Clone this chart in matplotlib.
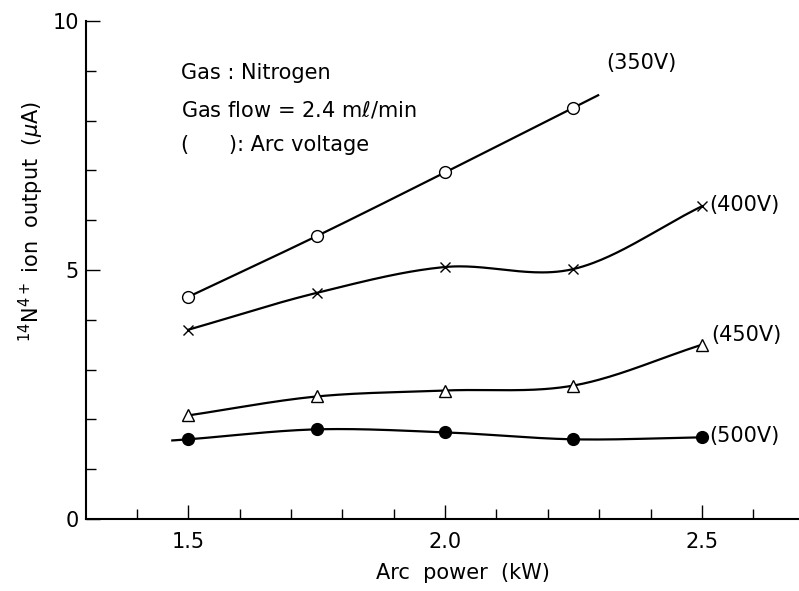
import numpy as np
import matplotlib.pyplot as plt

# arc power (kW)
power = [1.5, 1.75, 2.0, 2.25, 2.5]

# 14N4+ ion output (uA) per arc voltage
out_350 = [4.46, 5.68, 6.96, 8.26]
out_400 = [3.8, 4.54, 5.06, 5.02, 6.28]
out_450 = [2.08, 2.46, 2.58, 2.68, 3.5]
out_500 = [1.6, 1.8, 1.74, 1.6, 1.64]

labels = ['(350V)', '(400V)', '(450V)', '(500V)']


def smooth(x, y, x0=None, x1=None, n=200):
    # cubic hermite through the points, finite-difference slopes
    x = np.asarray(x, float)
    y = np.asarray(y, float)
    m = np.gradient(y, x)
    lo = x[0] if x0 is None else x0
    hi = x[-1] if x1 is None else x1
    xs = np.linspace(lo, hi, n)
    ys = np.empty_like(xs)
    for i, xv in enumerate(xs):
        k = np.clip(np.searchsorted(x, xv) - 1, 0, len(x) - 2)
        h = x[k + 1] - x[k]
        t = (xv - x[k]) / h
        h00 = 2 * t**3 - 3 * t**2 + 1
        h10 = t**3 - 2 * t**2 + t
        h01 = -2 * t**3 + 3 * t**2
        h11 = t**3 - t**2
        ys[i] = h00 * y[k] + h10 * h * m[k] + h01 * y[k + 1] + h11 * h * m[k + 1]
    return xs, ys


plt.rcParams['font.family'] = ['DejaVu Sans']
fig = plt.figure(figsize=(7.99, 5.91), dpi=100)
ax = fig.add_axes([86 / 799, 72 / 591, 713 / 799, 498 / 591])

series = [(power[:4], out_350, 'o', 'white', None, 2.298),
          (power, out_400, 'x', 'black', None, None),
          (power, out_450, '^', 'white', None, None),
          (power, out_500, 'o', 'black', 1.469, None)]

for x, y, mk, fc, x0, x1 in series:
    xs, ys = smooth(x, y, x0, x1)
    ax.plot(xs, ys, color='black', lw=1.6, zorder=2)
    ax.plot(x, y, ls='none', marker=mk, ms=8.5 if mk != 'x' else 7,
            mfc=fc, mec='black', mew=1.0, zorder=3)

lab_kw = dict(fontsize=15, va='center')
ax.text(2.314, 9.15, labels[0], **lab_kw)
ax.text(2.514, 6.3, labels[1], **lab_kw)
ax.text(2.518, 3.7, labels[2], **lab_kw)
ax.text(2.514, 1.66, labels[3], **lab_kw)

ax.text(1.485, 8.96, 'Gas : Nitrogen', **lab_kw)
ax.text(1.485, 8.22, r'Gas flow = 2.4 m$\ell$/min', **lab_kw)
ax.text(1.485, 7.52, '(      ): Arc voltage', **lab_kw)

ax.set_xlim(1.301, 2.689)
ax.set_ylim(0, 10)
ax.set_xticks([1.5, 2.0, 2.5])
ax.set_xticklabels(['1.5', '2.0', '2.5'])
ax.set_xticks(np.arange(1.4, 2.65, 0.1), minor=True)
ax.set_yticks([0, 5, 10])
ax.set_yticks(range(1, 10), minor=True)
ax.tick_params(which='major', direction='in', length=10, width=1, labelsize=15)
ax.tick_params(axis='x', which='major', pad=9)
ax.tick_params(axis='y', which='major', pad=5)
ax.tick_params(which='minor', direction='in', length=7, width=1)
ax.spines['top'].set_visible(False)
ax.spines['right'].set_visible(False)
ax.spines['left'].set_linewidth(1.5)
ax.spines['bottom'].set_linewidth(1.5)

ax.set_xlabel('Arc  power  (kW)', fontsize=15)
ax.xaxis.set_label_coords((463 - 86) / 713, -(563 - 519) / 498)
ax.set_ylabel(r'$^{14}$N$^{4+}$ ion  output  ($\mu$A)', fontsize=15)
ax.yaxis.set_label_coords(-(86 - 46) / 713, (519 - 222) / 498)

fig.savefig('out.png', dpi=100)
